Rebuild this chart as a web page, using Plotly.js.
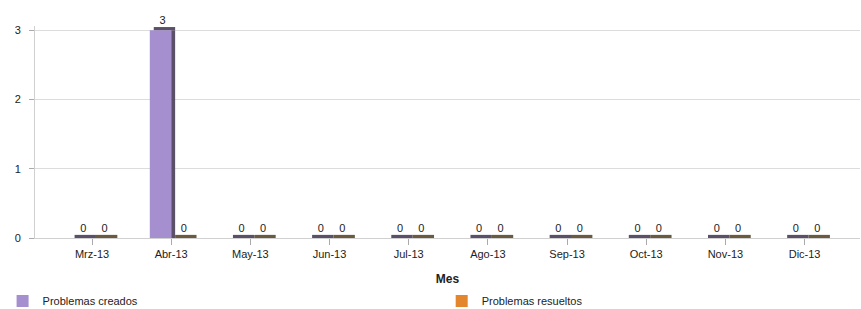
<!DOCTYPE html>
<html>
<head>
<meta charset="utf-8">
<script src="https://cdn.plot.ly/plotly-3.0.1.min.js"></script>
<style>html,body{margin:0;padding:0;background:#fff;}#chart{width:861px;height:309px;}</style>
</head>
<body>
<div id="chart"></div>
<script>
var months = ["Mrz-13","Abr-13","May-13","Jun-13","Jul-13","Ago-13","Sep-13","Oct-13","Nov-13","Dic-13"];
var creados = [0,3,0,0,0,0,0,0,0,0];
var resueltos = [0,0,0,0,0,0,0,0,0,0];
var yTicks = [0,1,2,3];

var idx = months.map(function(_, i){ return i; });
var W = 0.27, S = 0.05, H = 0.045;
var purple = "#a68fcf", purpleDark = "#5a5068";
var orange = "#e3862e", orangeDark = "#6a5a40";
var font = "Liberation Sans, Arial, sans-serif";

function faceTrace(vals, off, col, name, leg){
  return {type:"bar", x:idx, y:vals, offset:off, width:W, name:name, showlegend:true, legend:leg,
    marker:{color:col, line:{width:0}}, hoverinfo:"skip", textposition:"none"};
}
function topTrace(vals, off, col){
  return {type:"bar", x:idx, y:vals.map(function(){return H;}), base:vals, offset:off+S, width:W,
    marker:{color:col, line:{width:0}}, showlegend:false, hoverinfo:"skip"};
}
function sideTrace(vals, off, col){
  return {type:"bar", x:idx, y:vals, offset:off+W, width:S,
    marker:{color:col, line:{width:0}}, showlegend:false, hoverinfo:"skip"};
}
function labelTrace(vals, off){
  return {type:"scatter", mode:"text", x:idx.map(function(i){return i+off+W/2+S/2;}),
    y:vals.map(function(v){return v + H;}),
    text:vals.map(String), textposition:"top center", cliponaxis:false,
    textfont:{family:font, size:11, color:"#222"}, showlegend:false, hoverinfo:"skip"};
}

var data = [
  sideTrace(creados, -W, purpleDark),
  faceTrace(creados, -W, purple, "Problemas creados", "legend"),
  topTrace(creados, -W, purpleDark),
  sideTrace(resueltos, 0, orangeDark),
  faceTrace(resueltos, 0, orange, "Problemas resueltos", "legend2"),
  topTrace(resueltos, 0, orangeDark),
  labelTrace(creados, -W),
  labelTrace(resueltos, 0)
];

var layout = {
  width:861, height:309,
  margin:{l:35, r:1, t:26, b:71},
  paper_bgcolor:"#fff", plot_bgcolor:"#fff",
  barmode:"overlay",
  font:{family:font, size:11, color:"#222"},
  xaxis:{type:"linear", range:[-0.72, 9.70], tickvals:idx, ticktext:months,
    showgrid:false, zeroline:false, showline:true, linecolor:"#d0d0d0", linewidth:1,
    ticks:"outside", ticklen:6, tickcolor:"#aaa", tickfont:{size:11, color:"#222"},
    title:{text:"<b>Mes</b>", font:{size:12, color:"#222"}, standoff:32}},
  yaxis:{range:[0,3.06], tickvals:yTicks, ticktext:yTicks.map(String),
    showgrid:true, gridcolor:"#dcdcdc", zeroline:false, showline:true, linecolor:"#d0d0d0",
    ticks:"outside", ticklen:5, tickcolor:"#aaa", ticklabelstandoff:6, tickfont:{size:11, color:"#222"}},
  showlegend:true,
  legend:{orientation:"h", xref:"container", yref:"container", x:0.003, y:0.026, xanchor:"left", yanchor:"middle",
    font:{size:11, color:"#222"}, bgcolor:"rgba(0,0,0,0)"},
  legend2:{orientation:"h", xref:"container", yref:"container", x:0.513, y:0.026, xanchor:"left", yanchor:"middle",
    font:{size:11, color:"#222"}, bgcolor:"rgba(0,0,0,0)"}
};

Plotly.newPlot("chart", data, layout, {displayModeBar:false, staticPlot:true});
</script>
</body>
</html>
